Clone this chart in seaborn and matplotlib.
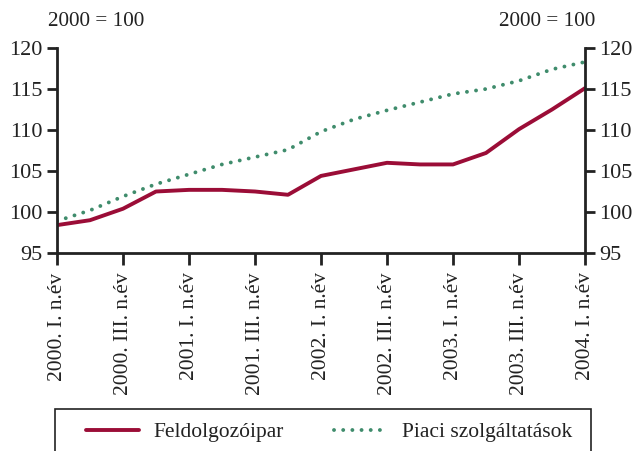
import matplotlib
matplotlib.use("Agg")
import matplotlib.pyplot as plt
import matplotlib.patches as mpatches
import seaborn as sns
import pandas as pd

# adatok (negyedéves indexek, 2000 = 100)
negyedevek = [
    "2000. I. n.év", "2000. II. n.év", "2000. III. n.év", "2000. IV. n.év",
    "2001. I. n.év", "2001. II. n.év", "2001. III. n.év", "2001. IV. n.év",
    "2002. I. n.év", "2002. II. n.év", "2002. III. n.év", "2002. IV. n.év",
    "2003. I. n.év", "2003. II. n.év", "2003. III. n.év", "2003. IV. n.év",
    "2004. I. n.év",
]
feldolgozoipar = [98.4, 99.0, 100.4, 102.5, 102.7, 102.7, 102.5, 102.1, 104.4,
                  105.2, 106.0, 105.8, 105.8, 107.2, 110.1, 112.5, 115.1]
piaci_szolg = [98.9, 100.2, 101.9, 103.4, 104.6, 105.8, 106.7, 107.6, 109.8,
               111.3, 112.4, 113.4, 114.4, 115.0, 116.0, 117.4, 118.3]
y_ticks = [95, 100, 105, 110, 115, 120]

df = pd.DataFrame({
    "idx": list(range(len(negyedevek))) * 2,
    "ertek": feldolgozoipar + piaci_szolg,
    "sor": ["Feldolgozóipar"] * len(negyedevek) + ["Piaci szolgáltatások"] * len(negyedevek),
})

sns.set_style("white")
plt.rcParams["font.family"] = ["Liberation Serif", "DejaVu Serif"]
plt.rcParams["font.size"] = 15
plt.rcParams["text.color"] = "#222222"

piros = "#9b0d37"
zold = "#3f8c6c"

fig = plt.figure(figsize=(6.44, 4.51), dpi=100)
ax = fig.add_axes([57 / 644, 1 - 253 / 451, 528 / 644, 205 / 451])

sns.lineplot(
    data=df, x="idx", y="ertek", hue="sor", style="sor",
    palette={"Feldolgozóipar": piros, "Piaci szolgáltatások": zold},
    dashes={"Feldolgozóipar": "", "Piaci szolgáltatások": (0.01, 2.35)},
    linewidth=2.8, ax=ax, legend=True,
)
for ln in ax.get_lines():
    ln.set_dash_capstyle("round")

ax.set_xlim(0, len(negyedevek) - 1)
ax.set_ylim(95, 120)
ax.set_yticks(y_ticks)
ax.set_xticks(range(0, len(negyedevek), 2))
ax.set_xticklabels(negyedevek[::2], rotation=90)
ax.set_xlabel("")
ax.set_ylabel("")

for s in ["left", "right", "bottom"]:
    ax.spines[s].set_visible(True)
    ax.spines[s].set_color("#222222")
    ax.spines[s].set_linewidth(2.0)
ax.spines["top"].set_visible(False)

ax.tick_params(axis="y", left=True, right=True, labelleft=True, labelright=True,
               length=7, width=2, pad=3.5, colors="#222222", labelsize=16)
ax.tick_params(axis="x", bottom=True, length=8.5, width=2, pad=5.5,
               colors="#222222", labelsize=15.5)

fig.text(48 / 644, 1 - 22 / 451, "2000 = 100", ha="left", va="center", fontsize=15.3)
fig.text(595 / 644, 1 - 22 / 451, "2000 = 100", ha="right", va="center", fontsize=15.3)

# jelmagyarázat kerettel alul
handles, labels = ax.get_legend_handles_labels()
ax.get_legend().remove()
fig.legend(handles, labels, loc="center left", bbox_to_anchor=(86 / 644, 1 - 432 / 451),
           ncol=2, frameon=False, borderpad=0, borderaxespad=0, handlelength=2.45,
           handletextpad=0.7, columnspacing=2.3, fontsize=15.5)
fig.patches.append(mpatches.Rectangle((55 / 644, -0.05), 536 / 644, 0.05 + 1 - 409 / 451,
                                      transform=fig.transFigure, fill=False,
                                      edgecolor="#222222", linewidth=1.2))

fig.savefig("out.png", dpi=100)
